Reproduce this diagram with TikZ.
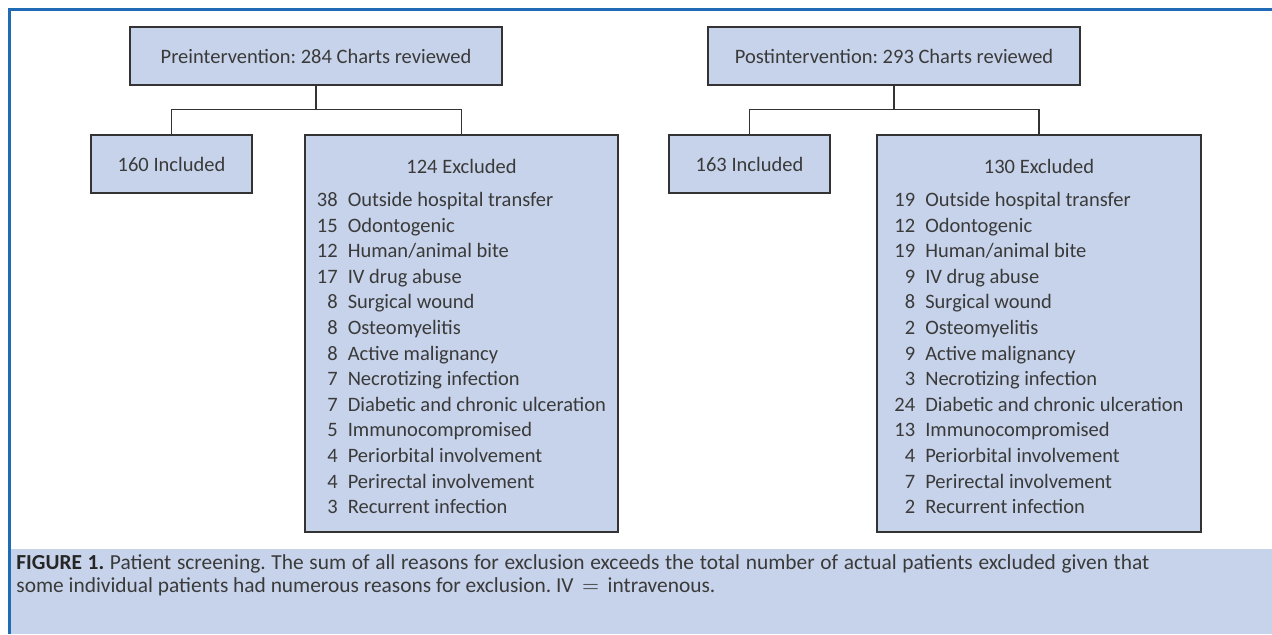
\documentclass[tikz,border=0pt]{standalone}
\usepackage{fontspec}
\setmainfont{Carlito}
\usepackage{xcolor}
\definecolor{flowFill}{HTML}{C7D3EA}
\definecolor{flowLine}{HTML}{333333}
\definecolor{flowText}{HTML}{3A3A3A}
\definecolor{frameBlue}{HTML}{1F6BB5}
\usepackage{tikz}
\usetikzlibrary{positioning}
\tikzset{box/.style={draw=flowLine, fill=flowFill, line width=0.7pt, text=flowText, inner sep=0pt, font=\fontsize{10.25}{12.8}\selectfont}}
\tikzset{head box/.style={box, minimum width=186pt, minimum height=29pt}}
\tikzset{in box/.style={box, minimum width=80.5pt, minimum height=29pt}}
\tikzset{out box/.style={box, minimum height=198.5pt, align=center}}
\tikzset{link/.style={draw=flowLine, line width=0.7pt}}
\newcommand{\exclusions}[2]{\rule{0pt}{14pt}#1\\[3.7pt]\begin{tabular}[t]{@{}r@{\hspace{5pt}}l@{}}#2\end{tabular}}
\frenchspacing

\begin{document}
\begin{tikzpicture}[x=0.5pt, y=-0.5pt]
\useasboundingbox (0,0) rectangle (1272,634);
\fill[white] (0,0) rectangle (1272,634);
\fill[flowFill] (11,549) rectangle (1272,634);
\draw[frameBlue, line width=1.75pt] (9.5,634) -- (9.5,9.5) -- (1272,9.5);

\node[head box](pre) at (316,56) {Preintervention: 284 Charts reviewed};
\node[in box](preIn) at (171.5,164) {160 Included};
\node[out box, minimum width=156.5pt](preEx) at (461.5,333.5) {\exclusions{124 Excluded}{
38 & Outside hospital transfer\\
15 & Odontogenic\\
12 & Human/animal bite\\
17 & IV drug abuse\\
8 & Surgical wound\\
8 & Osteomyelitis\\
8 & Active malignancy\\
7 & Necrotizing infection\\
7 & Diabetic and chronic ulceration\\
5 & Immunocompromised\\
4 & Periorbital involvement\\
4 & Perirectal involvement\\
3 & Recurrent infection}};
\draw[link] (pre.south) -- ++(0,24) coordinate (preFork);
\draw[link] (preIn.north) |- (preFork) -| (preEx.north);

\node[head box](post) at (894,56) {Postintervention: 293 Charts reviewed};
\node[in box](postIn) at (749.5,164) {163 Included};
\node[out box, minimum width=162pt](postEx) at (1039,333.5) {\exclusions{130 Excluded}{
19 & Outside hospital transfer\\
12 & Odontogenic\\
19 & Human/animal bite\\
9 & IV drug abuse\\
8 & Surgical wound\\
2 & Osteomyelitis\\
9 & Active malignancy\\
3 & Necrotizing infection\\
24 & Diabetic and chronic ulceration\\
13 & Immunocompromised\\
4 & Periorbital involvement\\
7 & Perirectal involvement\\
2 & Recurrent infection}};
\draw[link] (post.south) -- ++(0,24) coordinate (postFork);
\draw[link] (postIn.north) |- (postFork) -| (postEx.north);

\node[anchor=north west, inner sep=0pt, text width=566.5pt, align=justify, text=flowText, font=\fontsize{10.7}{11.75}\selectfont](caption) at (16,554) {\textbf{\color{black!85}FIGURE 1.} Patient screening. The sum of all reasons for exclusion exceeds the total number of actual patients excluded given that\linebreak some individual patients had numerous reasons for exclusion. IV $\,=\,$ intravenous.};
\end{tikzpicture}
\end{document}
